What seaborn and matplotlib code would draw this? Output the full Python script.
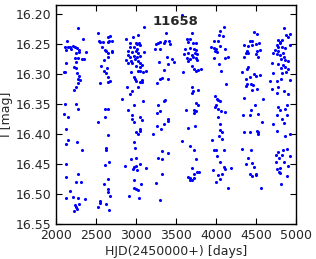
import numpy as np
import pandas as pd
import matplotlib
matplotlib.use('Agg')
import matplotlib.pyplot as plt
import seaborn as sns

# star id shown on the plot
star_id = '11658'

# HJD - 2450000 (days)
hjd = [
    # season 1
    2271, 2138, 2333, 2112, 2154, 2179, 2217, 2237, 2121, 2187, 2262, 2287, 2254, 2287, 2375,
    2275, 2325, 2350, 2237, 2129, 2246, 2229, 2254, 2112, 2104, 2262, 2287, 2271, 2296, 2271,
    2246, 2221, 2112, 2254, 2104, 2279, 2154, 2129, 2146, 2129, 2262, 2321, 2129, 2121, 2279,
    2254, 2312, 2179, 2129, 2212, 2271, 2362, 2287, 2237, 2246, 2262, 2229,
    # season 2
    2521, 2654, 2675, 2554, 2537, 2587, 2646, 2667, 2696, 2571, 2612, 2629, 2646, 2696, 2704,
    2654, 2604, 2562, 2637, 2596, 2629, 2646, 2679, 2554, 2654, 2612, 2646, 2612, 2529, 2654,
    2629, 2629, 2662, 2612, 2654, 2604, 2646, 2646, 2671, 2546, 2546, 2529, 2621, 2662,
    # season 3
    3096, 3021, 2962, 2879, 2929, 2996, 3012, 3037, 3054, 2921, 2979, 3012, 2904, 2946, 2996,
    3029, 3104, 2896, 2929, 2971, 3012, 3046, 2879, 2937, 2987, 3021, 2904, 2954, 3054, 3079,
    2996, 3046, 2937, 3021, 3054, 3087, 3129, 2971, 2987, 3004, 3071, 3046, 3079, 2887, 3021,
    2954, 2929, 2829, 3087, 2904, 2979, 2946, 3046, 2946, 3079, 2979, 3054, 3046, 2996, 3029,
    2979, 2987, 2937, 2996, 2862, 2979, 3004, 3054, 3121, 2962, 3012, 2971, 3062, 2971, 3004,
    3021, 2912, 3037,
    # season 4
    3379, 3304, 3362, 3412, 3246, 3279, 3346, 3421, 3237, 3296, 3387, 3446, 3471, 3287, 3396,
    3354, 3296, 3321, 3396, 3262, 3346, 3362, 3279, 3296, 3262, 3396, 3396, 3354, 3262, 3312,
    3212, 3329, 3404, 3271, 3321, 3329, 3246, 3296,
    # season 5
    3580, 3696, 3637, 3679, 3712, 3654, 3746, 3612, 3671, 3721, 3754, 3604, 3646, 3696, 3737,
    3762, 3637, 3679, 3712, 3754, 3654, 3762, 3587, 3704, 3729, 3746, 3771, 3812, 3696, 3712,
    3771, 3704, 3746, 3771, 3629, 3729, 3746, 3721, 3737, 3646, 3579, 3679, 3729, 3746, 3704,
    3762, 3787, 3729, 3654, 3671, 3696, 3679, 3721,
    # season 6
    4096, 4054, 4037, 4087, 3971, 4021, 3937, 3979, 4004, 4054, 4112, 3987, 4012, 3971, 4112,
    4154, 4037, 4062, 4129, 3987, 4012, 4029, 4054, 4004, 3987, 4021, 4062, 4112, 4029, 4046,
    4054, 4071, 4037, 4071, 3954, 3979, 4004, 4104, 4012, 4046, 4096, 4112, 4187, 3962, 4079,
    4021, 4054, 3996, 4146,
    # season 7
    4479, 4512, 4421, 4454, 4354, 4404, 4446, 4496, 4537, 4387, 4404, 4371, 4512, 4546, 4496,
    4354, 4521, 4404, 4387, 4329, 4471, 4496, 4554, 4379, 4429, 4387, 4437, 4462, 4371, 4446,
    4512, 4346, 4587, 4487, 4437, 4337, 4421, 4521, 4354, 4429, 4512, 4529, 4521, 4579, 4329,
    4437, 4404, 4371, 4454, 4471, 4421, 4504, 4496, 4454, 4562,
    # season 8
    4846, 4879, 4904, 4929, 4779, 4796, 4804, 4762, 4829, 4779, 4821, 4862, 4921, 4737, 4771,
    4712, 4762, 4796, 4837, 4846, 4812, 4862, 4904, 4704, 4771, 4837, 4812, 4862, 4896, 4712,
    4821, 4879, 4762, 4671, 4812, 4929, 4696, 4762, 4846, 4896, 4779, 4771, 4796, 4862, 4887,
    4762, 4887, 4712, 4762, 4854, 4829, 4862, 4921, 4887, 4837, 4779, 4821, 4746, 4787, 4929,
    4754, 4846, 4896, 4762, 4796, 4804, 4787, 4887, 4812,
]

# I magnitude, same order as hjd
imag = [
    # season 1
    16.224, 16.2445, 16.242, 16.2555, 16.2545, 16.2555, 16.253, 16.2555, 16.260, 16.259, 16.257, 16.260, 16.2645, 16.263, 16.264,
    16.273, 16.275, 16.275, 16.274, 16.282, 16.2805, 16.288, 16.2905, 16.296, 16.297, 16.298, 16.303, 16.309, 16.310, 16.3155,
    16.322, 16.3265, 16.3495, 16.350, 16.3665, 16.359, 16.372, 16.3915, 16.4095, 16.417, 16.413, 16.426, 16.4505, 16.471, 16.466,
    16.4805, 16.480, 16.495, 16.507, 16.505, 16.507, 16.509, 16.517, 16.518, 16.5217, 16.525, 16.528,
    # season 2
    16.232, 16.238, 16.237, 16.246, 16.2455, 16.2467, 16.2467, 16.2455, 16.2445, 16.2545, 16.260, 16.262, 16.2645, 16.261, 16.263,
    16.272, 16.2765, 16.2865, 16.2905, 16.295, 16.299, 16.3055, 16.312, 16.3145, 16.313, 16.358, 16.358, 16.372, 16.3795, 16.4017,
    16.424, 16.426, 16.446, 16.4517, 16.475, 16.4835, 16.4917, 16.496, 16.503, 16.512, 16.5155, 16.522, 16.517, 16.527,
    # season 3
    16.221, 16.2345, 16.238, 16.242, 16.249, 16.248, 16.250, 16.249, 16.251, 16.2545, 16.2555, 16.259, 16.261, 16.263, 16.262,
    16.2645, 16.263, 16.269, 16.272, 16.270, 16.271, 16.270, 16.2765, 16.278, 16.2755, 16.278, 16.281, 16.281, 16.282, 16.285,
    16.2865, 16.289, 16.296, 16.2955, 16.2945, 16.297, 16.2945, 16.3045, 16.308, 16.311, 16.310, 16.313, 16.313, 16.322, 16.322,
    16.329, 16.333, 16.341, 16.3455, 16.360, 16.3517, 16.369, 16.372, 16.3745, 16.3762, 16.3805, 16.3917, 16.395, 16.397, 16.4005,
    16.4138, 16.424, 16.4417, 16.4395, 16.4528, 16.4545, 16.454, 16.4505, 16.457, 16.4583, 16.460, 16.4772, 16.4838, 16.4905, 16.4917,
    16.4928, 16.5038, 16.5062,
    # season 4
    16.232, 16.2467, 16.2445, 16.2445, 16.250, 16.249, 16.249, 16.250, 16.259, 16.259, 16.271, 16.2755, 16.280, 16.2795, 16.283,
    16.293, 16.308, 16.307, 16.309, 16.3155, 16.3445, 16.343, 16.352, 16.361, 16.3655, 16.375, 16.3783, 16.3828, 16.3862, 16.3917,
    16.4005, 16.4283, 16.4317, 16.4405, 16.4422, 16.4662, 16.4812, 16.5095,
    # season 5
    16.202, 16.231, 16.242, 16.241, 16.248, 16.2467, 16.249, 16.259, 16.257, 16.258, 16.260, 16.2667, 16.2655, 16.2678, 16.2655,
    16.2667, 16.2733, 16.2755, 16.272, 16.2733, 16.278, 16.2767, 16.296, 16.2867, 16.2922, 16.2955, 16.2933, 16.2922, 16.3222, 16.3288,
    16.3267, 16.3322, 16.3478, 16.3512, 16.360, 16.360, 16.3622, 16.3645, 16.3872, 16.3905, 16.4117, 16.4205, 16.4262, 16.4417, 16.4562,
    16.4628, 16.4628, 16.4662, 16.4717, 16.4738, 16.4762, 16.4772, 16.4738,
    # season 6
    16.2222, 16.2288, 16.2345, 16.2367, 16.2445, 16.2455, 16.2555, 16.2567, 16.259, 16.2533, 16.2578, 16.2612, 16.2633, 16.2733, 16.2733,
    16.2722, 16.2833, 16.2945, 16.3167, 16.3367, 16.3412, 16.3433, 16.3455, 16.3512, 16.3555, 16.3578, 16.3612, 16.3633, 16.3712, 16.3838,
    16.3938, 16.3962, 16.4038, 16.4083, 16.4105, 16.4262, 16.4272, 16.4262, 16.4372, 16.4472, 16.455, 16.4583, 16.4572, 16.4605, 16.4662,
    16.4683, 16.475, 16.4795, 16.4895,
    # season 7
    16.230, 16.2333, 16.2445, 16.2445, 16.2512, 16.2533, 16.2522, 16.250, 16.2488, 16.2612, 16.2645, 16.2655, 16.2622, 16.260, 16.2667,
    16.2712, 16.2712, 16.2878, 16.2912, 16.2967, 16.300, 16.3033, 16.3012, 16.3078, 16.3045, 16.3167, 16.3167, 16.3178, 16.320, 16.3267,
    16.3255, 16.340, 16.3412, 16.3522, 16.360, 16.3688, 16.3678, 16.3667, 16.3972, 16.3962, 16.395, 16.3995, 16.3972, 16.3805, 16.425,
    16.4272, 16.4405, 16.4495, 16.4483, 16.455, 16.4662, 16.4662, 16.4683, 16.4705, 16.4905,
    # season 8
    16.2233, 16.2345, 16.2378, 16.2333, 16.2433, 16.2467, 16.2488, 16.2512, 16.2433, 16.2545, 16.2555, 16.2567, 16.2512, 16.260, 16.2622,
    16.2645, 16.2667, 16.2678, 16.2645, 16.2712, 16.2745, 16.2767, 16.2788, 16.2822, 16.2833, 16.2855, 16.290, 16.2888, 16.2912, 16.2978,
    16.2988, 16.2967, 16.3112, 16.3112, 16.3088, 16.310, 16.3255, 16.3312, 16.3278, 16.3333, 16.3212, 16.3555, 16.360, 16.3578, 16.3512,
    16.3678, 16.3678, 16.3838, 16.395, 16.3817, 16.375, 16.4038, 16.4005, 16.425, 16.4272, 16.4305, 16.435, 16.435, 16.4405, 16.4372,
    16.4472, 16.4462, 16.4528, 16.4583, 16.4572, 16.465, 16.4638, 16.4705, 16.4838,
]

x_ticks = [2000, 2500, 3000, 3500, 4000, 4500, 5000]
y_ticks = [16.20, 16.25, 16.30, 16.35, 16.40, 16.45, 16.50, 16.55]

df = pd.DataFrame({'HJD': hjd, 'I': imag})

sns.set_style('ticks')
plt.rcParams['font.family'] = ['DejaVu Sans']
plt.rcParams['xtick.direction'] = 'in'
plt.rcParams['ytick.direction'] = 'in'
plt.rcParams['xtick.top'] = True
plt.rcParams['ytick.right'] = True

fig = plt.figure(figsize=(3.16, 2.59), dpi=100)
ax = fig.add_axes([0.177, 0.135, 0.760, 0.846])

# small blue dots, like the old 'b.' style
sns.scatterplot(data=df, x='HJD', y='I', color='blue', s=5, linewidth=0, ax=ax)

ax.set_xlim(2000, 5000)
ax.set_ylim(16.55, 16.185)
ax.set_xticks(x_ticks)
ax.set_yticks(y_ticks)
ax.set_yticklabels(['%.2f' % v for v in y_ticks])
ax.tick_params(labelsize=9, length=4, width=0.8, color='black')
for s in ax.spines.values():
    s.set_color('black')
    s.set_linewidth(1)

ax.set_xlabel('HJD(2450000+) [days]', fontsize=9, labelpad=2)
ax.set_ylabel('I [mag]', fontsize=9, labelpad=2)
ax.text(3490, 16.213, star_id, fontsize=9.5, fontweight='bold', ha='center', va='center')

fig.savefig('out.png', dpi=100)
